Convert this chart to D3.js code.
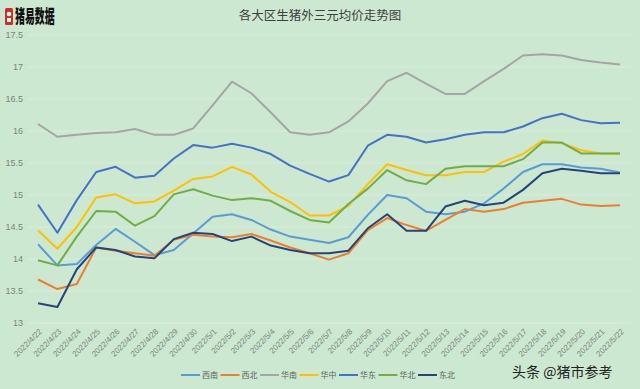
<!DOCTYPE html>
<html>
<head>
<meta charset="utf-8">
<script src="https://cdn.jsdelivr.net/npm/d3@7"></script>
<style>
  body { margin: 0; background: #cde8d0; }
  svg { display: block; font-family: "Noto Sans CJK SC", "Noto Sans", sans-serif; }
</style>
</head>
<body>
<svg id="chart"></svg>
<script>
// dates 2022/4/22 .. 2022/5/22
const dates = [
  "2022/4/22","2022/4/23","2022/4/24","2022/4/25","2022/4/26","2022/4/27","2022/4/28","2022/4/29","2022/4/30",
  "2022/5/1","2022/5/2","2022/5/3","2022/5/4","2022/5/5","2022/5/6","2022/5/7","2022/5/8","2022/5/9","2022/5/10",
  "2022/5/11","2022/5/12","2022/5/13","2022/5/14","2022/5/15","2022/5/16","2022/5/17","2022/5/18","2022/5/19",
  "2022/5/20","2022/5/21","2022/5/22"
];

const seriesNames = ["西南", "西北", "华南", "华中", "华东", "华北", "东北"];

const xinan = [14.23,13.90,13.92,14.22,14.47,14.27,14.06,14.14,14.40,14.66,14.70,14.61,14.46,14.35,14.30,14.25,14.34,14.69,15.00,14.95,14.74,14.70,14.74,14.87,15.10,15.36,15.48,15.48,15.43,15.41,15.35];
const xibei = [13.68,13.53,13.61,14.18,14.13,14.09,14.05,14.30,14.38,14.35,14.34,14.39,14.29,14.18,14.09,13.99,14.09,14.45,14.64,14.53,14.44,14.61,14.78,14.74,14.78,14.88,14.91,14.94,14.85,14.83,14.84];
const huanan = [16.11,15.91,15.94,15.97,15.98,16.03,15.94,15.94,16.04,16.40,16.77,16.59,16.29,15.98,15.94,15.98,16.15,16.43,16.78,16.91,16.74,16.58,16.58,16.78,16.97,17.18,17.20,17.18,17.11,17.07,17.04];
const huazhong = [14.45,14.16,14.50,14.96,15.01,14.87,14.90,15.07,15.25,15.29,15.44,15.32,15.05,14.89,14.68,14.68,14.83,15.17,15.48,15.39,15.31,15.31,15.36,15.36,15.52,15.64,15.85,15.81,15.70,15.65,15.65];
const huadong = [14.85,14.41,14.92,15.36,15.44,15.27,15.30,15.57,15.78,15.74,15.80,15.74,15.64,15.46,15.33,15.21,15.31,15.77,15.94,15.91,15.82,15.87,15.94,15.98,15.98,16.07,16.20,16.27,16.17,16.12,16.13];
const huabei = [13.98,13.90,14.35,14.75,14.74,14.52,14.67,15.01,15.09,14.99,14.92,14.95,14.91,14.75,14.61,14.57,14.86,15.10,15.39,15.23,15.17,15.41,15.45,15.45,15.45,15.56,15.82,15.82,15.65,15.65,15.65];
const dongbei = [13.31,13.25,13.84,14.18,14.14,14.04,14.01,14.31,14.41,14.39,14.28,14.35,14.21,14.14,14.09,14.09,14.13,14.48,14.70,14.44,14.44,14.82,14.91,14.84,14.88,15.08,15.34,15.41,15.38,15.34,15.34];

const yTicks = [13, 13.5, 14, 14.5, 15, 15.5, 16, 16.5, 17, 17.5];
const colors = ["#5b9bd5", "#ed7d31", "#a5a5a5", "#ffc000", "#4472c4", "#70ad47", "#264478"];

const allSeries = [xinan, xibei, huanan, huazhong, huadong, huabei, dongbei];

const width = 640, height = 389;
const svg = d3.select("#chart")
  .attr("width", width)
  .attr("height", height);

svg.append("rect").attr("width", width).attr("height", height).attr("fill", "#cde8d0");

const xScale = d3.scalePoint().domain(dates).range([38, 620]);
const yScale = d3.scaleLinear().domain([13, 17.5]).range([323, 35]);

// gridlines
svg.append("g")
  .selectAll("line")
  .data(yTicks)
  .enter()
  .append("line")
  .attr("x1", 28).attr("x2", 630)
  .attr("y1", d => yScale(d)).attr("y2", d => yScale(d))
  .attr("stroke", "#d8eedb")
  .attr("stroke-width", 1);

// y axis labels
const yAxis = svg.append("g")
  .attr("transform", "translate(28,0)")
  .call(d3.axisLeft(yScale).tickValues(yTicks).tickSize(0).tickPadding(5).tickFormat(d => d));
yAxis.select(".domain").remove();
yAxis.selectAll("text")
  .attr("fill", "#7a857b")
  .style("font-size", "9px")
  .style("font-family", "Liberation Sans, Arial, sans-serif");

// x axis
const xAxis = svg.append("g")
  .attr("transform", `translate(0, ${yScale(13)})`)
  .call(d3.axisBottom(xScale).tickSize(0).tickPadding(0));
xAxis.select(".domain").attr("stroke", "#d8eedb");
xAxis.selectAll("text")
  .attr("fill", "#7a857b")
  .style("font-size", "8px")
  .style("font-family", "Liberation Sans, Arial, sans-serif")
  .attr("text-anchor", "end")
  .attr("dy", "0")
  .attr("transform", "translate(4,9) rotate(-45)");

// lines
const line = d3.line()
  .x((d, i) => xScale(dates[i]))
  .y(d => yScale(d));

svg.append("g")
  .selectAll("path")
  .data(allSeries)
  .enter()
  .append("path")
  .attr("d", d => line(d))
  .attr("fill", "none")
  .attr("stroke", (d, i) => colors[i])
  .attr("stroke-width", 2)
  .attr("stroke-linejoin", "round");

// title
svg.append("text")
  .attr("x", 320).attr("y", 20)
  .attr("text-anchor", "middle")
  .attr("fill", "#404040")
  .style("font-size", "12.5px")
  .text("各大区生猪外三元均价走势图");

// logo
svg.append("rect")
  .attr("x", 5).attr("y", 8).attr("width", 8).attr("height", 17).attr("rx", 1.5)
  .attr("fill", "#d42a27");
svg.append("circle").attr("cx", 9).attr("cy", 14).attr("r", 2.3).attr("fill", "#fff");
svg.append("rect").attr("x", 7).attr("y", 18).attr("width", 4).attr("height", 4).attr("fill", "#fff");
svg.append("text")
  .attr("transform", "translate(15,23) scale(0.62,1.15)")
  .attr("fill", "#111")
  .style("font-size", "16px")
  .style("font-weight", "900")
  .text("猪易数据");

// legend
const legend = svg.append("g")
  .selectAll("g")
  .data(seriesNames)
  .enter()
  .append("g")
  .attr("transform", (d, i) => `translate(${181 + i * 39.5}, 375)`);
legend.append("line")
  .attr("x1", 0).attr("x2", 19)
  .attr("stroke", (d, i) => colors[i])
  .attr("stroke-width", 2);
legend.append("text")
  .attr("x", 21).attr("y", 3)
  .attr("fill", "#5a665b")
  .style("font-size", "8px")
  .text(d => d);

// watermark
svg.append("text")
  .attr("x", 512).attr("y", 377)
  .attr("fill", "#222")
  .style("font-size", "14px")
  .text("头条 @猪市参考");
</script>
</body>
</html>
